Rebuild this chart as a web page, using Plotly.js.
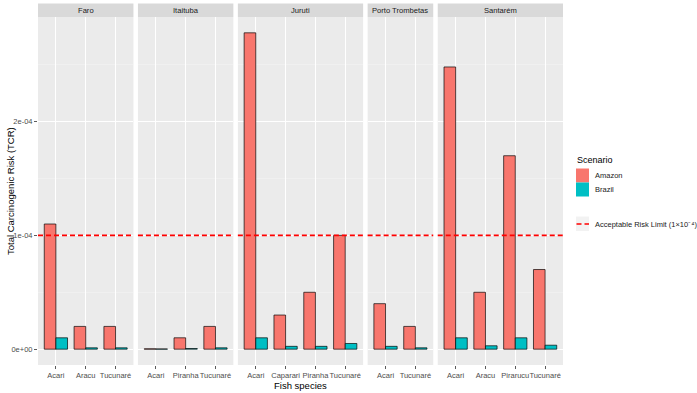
<!DOCTYPE html>
<html>
<head>
<meta charset="utf-8">
<script src="https://cdn.plot.ly/plotly-3.0.1.min.js"></script>
<style>html,body{margin:0;padding:0;background:#fff;}#chart{width:697px;height:393px;}</style>
</head>
<body>
<div id="chart"></div>
<script>
// ---- data ----
const regions = ['Faro', 'Itaituba', 'Juruti', 'Porto Trombetas', 'Santarém'];
const faroSpecies = ['Acari', 'Aracu', 'Tucunaré'];
const faroAmazon = [1.1e-4, 0.2e-4, 0.2e-4];
const faroBrazil = [0.1e-4, 0.012e-4, 0.012e-4];
const itaitubaSpecies = ['Acari', 'Piranha', 'Tucunaré'];
const itaitubaAmazon = [0.003e-4, 0.1e-4, 0.2e-4];
const itaitubaBrazil = [0.002e-4, 0.006e-4, 0.012e-4];
const jurutiSpecies = ['Acari', 'Caparari', 'Piranha', 'Tucunaré'];
const jurutiAmazon = [2.78e-4, 0.3e-4, 0.5e-4, 1.0e-4];
const jurutiBrazil = [0.1e-4, 0.025e-4, 0.025e-4, 0.05e-4];
const portoSpecies = ['Acari', 'Tucunaré'];
const portoAmazon = [0.4e-4, 0.2e-4];
const portoBrazil = [0.025e-4, 0.012e-4];
const santaremSpecies = ['Acari', 'Aracu', 'Pirarucu', 'Tucunaré'];
const santaremAmazon = [2.48e-4, 0.5e-4, 1.7e-4, 0.7e-4];
const santaremBrazil = [0.1e-4, 0.03e-4, 0.1e-4, 0.035e-4];
const riskLimit = 1e-4;
const yTickVals = [0, 1e-4, 2e-4];
const yTickText = ['0e+00', '1e-04', '2e-04'];
const scenarioNames = ['Amazon', 'Brazil'];
const limitLabel = 'Acceptable Risk Limit (1×10⁻⁴)';

const species = [faroSpecies, itaitubaSpecies, jurutiSpecies, portoSpecies, santaremSpecies];
const amazon = [faroAmazon, itaitubaAmazon, jurutiAmazon, portoAmazon, santaremAmazon];
const brazil = [faroBrazil, itaitubaBrazil, jurutiBrazil, portoBrazil, santaremBrazil];

// ---- layout geometry ----
const W = 697, H = 393;
const ml = 38, mr = 134, mt = 17, mb = 28;
const pw = W - ml - mr, ph = H - mt - mb;
const gap = 4.5;
const units = species.map(s => s.length + 0.2);
const totalUnits = units.reduce((a, b) => a + b, 0);
const unitPx = (pw - gap * (regions.length - 1)) / totalUnits;
const px2x = p => (p - ml) / pw;
const px2y = p => (H - mb - p) / ph;

const colA = '#F8766D', colB = '#00BFC4';
const FONT = 'Liberation Sans, Arial, sans-serif';

const data = [];
const layout = {
  width: W, height: H,
  margin: {l: ml, r: mr, t: mt, b: mb, pad: 0},
  paper_bgcolor: '#FFFFFF',
  plot_bgcolor: '#EBEBEB',
  barmode: 'group', bargap: 0.22, bargroupgap: 0,
  showlegend: false,
  font: {family: FONT, color: '#4D4D4D', size: 7.5},
  shapes: [], annotations: [],
  yaxis: {
    range: [-0.139e-4, 2.919e-4],
    tickvals: yTickVals, ticktext: yTickText,
    ticks: 'outside', ticklen: 3, tickcolor: '#333333', tickwidth: 0.8,
    showgrid: true, gridcolor: '#FFFFFF', gridwidth: 1,
    minor: {dtick: 0.5e-4, tick0: 0.5e-4, showgrid: true, gridcolor: '#F5F5F5', gridwidth: 0.5, ticks: ''},
    zeroline: false, showline: false,
    tickfont: {family: FONT, size: 7.5, color: '#4D4D4D'},
    fixedrange: true
  }
};

let cursor = 0;
regions.forEach((reg, i) => {
  const ax = i === 0 ? '' : String(i + 1);
  const xa = 'x' + ax;
  const d0 = cursor / pw;
  const d1 = (cursor + units[i] * unitPx) / pw;
  cursor += units[i] * unitPx + gap;
  layout['xaxis' + ax] = {
    domain: [d0, Math.min(d1, 1)],
    anchor: 'y',
    type: 'category',
    categoryorder: 'array', categoryarray: species[i],
    range: [-0.6, species[i].length - 0.4],
    tickangle: 0,
    ticks: 'outside', ticklen: 3, tickcolor: '#333333', tickwidth: 0.8,
    showgrid: true, gridcolor: '#FFFFFF', gridwidth: 1,
    zeroline: false, showline: false,
    tickfont: {family: FONT, size: 7.5, color: '#4D4D4D'},
    fixedrange: true
  };
  data.push({
    type: 'bar', name: scenarioNames[0], x: species[i], y: amazon[i], xaxis: xa, yaxis: 'y',
    marker: {color: colA, line: {color: 'rgba(0,0,0,0.75)', width: 0.9}}, offsetgroup: 'A', hoverinfo: 'skip'
  });
  data.push({
    type: 'bar', name: scenarioNames[1], x: species[i], y: brazil[i], xaxis: xa, yaxis: 'y',
    marker: {color: colB, line: {color: 'rgba(0,0,0,0.75)', width: 0.9}}, offsetgroup: 'B', hoverinfo: 'skip'
  });
  // limit line
  layout.shapes.push({
    type: 'line', xref: xa + ' domain', yref: 'y', x0: 0, x1: 1, y0: riskLimit, y1: riskLimit,
    line: {color: '#FF0000', width: 1.6, dash: '5px,3px'}, layer: 'above', opacity: 1
  });
  // strip
  layout.shapes.push({
    type: 'rect', xref: xa + ' domain', yref: 'paper', x0: 0, x1: 1, y0: 1, y1: 1 + 13.6 / ph,
    fillcolor: '#D9D9D9', line: {width: 0}, layer: 'below'
  });
  layout.annotations.push({
    xref: xa + ' domain', yref: 'paper', x: 0.5, y: 1 + 6.8 / ph, text: reg, showarrow: false,
    xanchor: 'center', yanchor: 'middle', font: {family: FONT, size: 7.6, color: '#1A1A1A'}
  });
});

// axis titles
layout.annotations.push({
  xref: 'paper', yref: 'paper', x: 0.5, y: px2y(385), text: 'Fish species', showarrow: false,
  xanchor: 'center', yanchor: 'middle', font: {family: FONT, size: 9.5, color: '#000000'}
});
layout.annotations.push({
  xref: 'paper', yref: 'paper', x: px2x(10), y: 0.5, text: 'Total Carcinogenic Risk (TCR)', showarrow: false,
  textangle: -90, xanchor: 'center', yanchor: 'middle', font: {family: FONT, size: 9.5, color: '#000000'}
});

// manual legend
const lx0 = 576, lx1 = 589;
layout.annotations.push({
  xref: 'paper', yref: 'paper', x: px2x(lx0 - 1), y: px2y(160), text: 'Scenario', showarrow: false,
  xanchor: 'left', yanchor: 'middle', font: {family: FONT, size: 9, color: '#000000'}
});
[[colA, 168.5, scenarioNames[0]], [colB, 182.5, scenarioNames[1]]].forEach(([c, top, lab]) => {
  layout.shapes.push({
    type: 'rect', xref: 'paper', yref: 'paper', x0: px2x(lx0), x1: px2x(lx1), y0: px2y(top), y1: px2y(top + 14),
    fillcolor: c, line: {width: 0}
  });
  layout.annotations.push({
    xref: 'paper', yref: 'paper', x: px2x(593), y: px2y(top + 7), text: lab, showarrow: false,
    xanchor: 'left', yanchor: 'middle', font: {family: FONT, size: 7.5, color: '#1A1A1A'}
  });
});
layout.shapes.push({
  type: 'rect', xref: 'paper', yref: 'paper', x0: px2x(lx0), x1: px2x(lx1), y0: px2y(216.5), y1: px2y(231),
  fillcolor: '#F2F2F2', line: {width: 0}
});
layout.shapes.push({
  type: 'line', xref: 'paper', yref: 'paper', x0: px2x(lx0 + 0.5), x1: px2x(lx1), y0: px2y(224), y1: px2y(224),
  line: {color: '#FF0000', width: 1.6, dash: '5px,3px'}
});
layout.annotations.push({
  xref: 'paper', yref: 'paper', x: px2x(593), y: px2y(224), text: limitLabel, showarrow: false,
  xanchor: 'left', yanchor: 'middle', font: {family: FONT, size: 7.5, color: '#1A1A1A'}
});

Plotly.newPlot('chart', data, layout, {displayModeBar: false, staticPlot: true});
</script>
</body>
</html>
